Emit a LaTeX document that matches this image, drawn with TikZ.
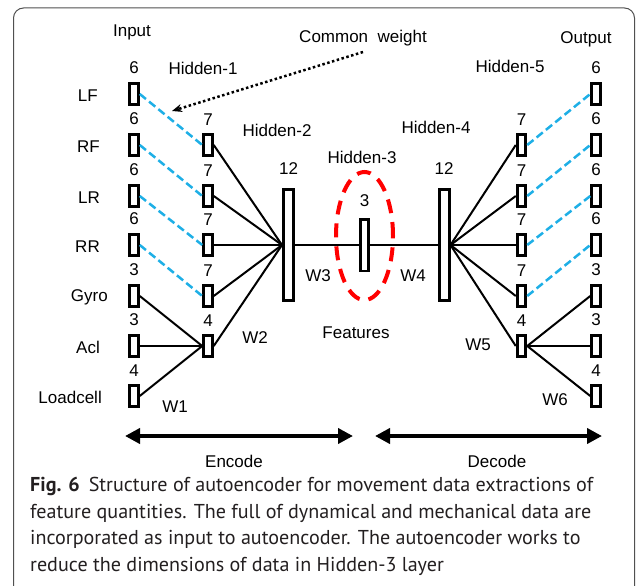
\documentclass[tikz,border=0pt]{standalone}
\usepackage{fontspec}
\setmainfont{Liberation Sans}
\newfontfamily\capfont{PT Sans}
\usetikzlibrary{arrows.meta}
\definecolor{wblue}{RGB}{30,175,230}
\definecolor{framegray}{RGB}{80,80,80}
\definecolor{captext}{RGB}{35,31,32}

\begin{document}
\begin{tikzpicture}[x=1pt, y=-1pt,
    every node/.style={font=\fontsize{17}{20}\selectfont, inner sep=0pt},
    label distance=8pt,
    unit/.style={draw, fill=white, line width=3pt, minimum width=8.5pt, minimum height=20.5pt},
    layer/.style={unit, minimum width=10pt, minimum height=111pt},
    code/.style={unit, line width=2.5pt, minimum width=8pt, minimum height=51.5pt},
    link/.style={line width=2pt},
    shared/.style={line width=2.5pt, wblue, dash pattern=on 8pt off 4pt},
    ring/.style={line width=4pt, red, dash pattern=on 14pt off 9pt},
    bigarrow/.style={{Triangle[length=15pt,width=15pt]}-{Triangle[length=15pt,width=15pt]}, line width=4pt},
    capline/.style={anchor=base west, text=captext, font=\capfont\fontsize{20.1}{24}\selectfont}]
    \useasboundingbox (0,0) rectangle (637,586);
    \draw[framegray, line width=1pt, rounded corners=10pt] (13.5,8) rectangle (634.5,600);

    % titles
    \node (tin)  at (132,32)  {Input};
    \node (tout) at (586,39)  {Output};
    \node (cw)   at (363,38)  {Common\ \ weight};
    \node (th1)  at (203,68)  {Hidden-1};
    \node (th2)  at (277,130) {Hidden-2};
    \node (th3)  at (362,157) {Hidden-3};
    \node (th4)  at (436,127) {Hidden-4};
    \node (th5)  at (510,66)  {Hidden-5};

    % input layer
    \node[unit, label={[name=nx1]above:6}] (x1) at (134,94)  {};
    \node[unit, label={[name=nx2]above:6}] (x2) at (134,145) {};
    \node[unit, label={[name=nx3]above:6}] (x3) at (134,196) {};
    \node[unit, label={[name=nx4]above:6}] (x4) at (134,245) {};
    \node[unit, label={[name=nx5]above:3}] (x5) at (134,296) {};
    \node[unit, label={[name=nx6]above:3}] (x6) at (134,346) {};
    \node[unit, label={[name=nx7]above:4}] (x7) at (134,396) {};
    \node[anchor=east] (lf)   at (98,96)   {LF};
    \node[anchor=east] (rf)   at (100,147) {RF};
    \node[anchor=east] (lr)   at (100,198) {LR};
    \node[anchor=east] (rr)   at (100,247) {RR};
    \node[anchor=east] (gyro) at (108,297) {Gyro};
    \node[anchor=east] (acl)  at (100,347) {Acl};
    \node[anchor=east] (load) at (102,397) {Loadcell};

    % hidden-1
    \node[unit, label={[name=na1]above:7}] (a1) at (208,145) {};
    \node[unit, label={[name=na2]above:7}] (a2) at (208,196) {};
    \node[unit, label={[name=na3]above:7}] (a3) at (208,245) {};
    \node[unit, label={[name=na4]above:7}] (a4) at (208,296) {};
    \node[unit, label={[name=na5]above:4}] (a5) at (208,346) {};

    % hidden-2, 3, 4
    \node[layer, label={[name=nb, label distance=13pt]above:12}] (b) at (288.5,245) {};
    \node[code,  label={[name=nz, label distance=11pt]above:3}]  (z) at (364.5,245) {};
    \node[layer, label={[name=nc, label distance=13pt]above:12}] (c) at (444,245)   {};
    \draw[ring] (364.5,236) ellipse [x radius=28.5pt, y radius=64pt];

    % hidden-5
    \node[unit, label={[name=nd1]above:7}] (d1) at (521.5,145) {};
    \node[unit, label={[name=nd2]above:7}] (d2) at (521.5,196) {};
    \node[unit, label={[name=nd3]above:7}] (d3) at (521.5,245) {};
    \node[unit, label={[name=nd4]above:7}] (d4) at (521.5,296) {};
    \node[unit, label={[name=nd5]above:4}] (d5) at (521.5,346) {};

    % output layer
    \node[unit, label={[name=ny1]above:6}] (y1) at (596,94)  {};
    \node[unit, label={[name=ny2]above:6}] (y2) at (596,145) {};
    \node[unit, label={[name=ny3]above:6}] (y3) at (596,196) {};
    \node[unit, label={[name=ny4]above:6}] (y4) at (596,245) {};
    \node[unit, label={[name=ny5]above:3}] (y5) at (596,296) {};
    \node[unit, label={[name=ny6]above:3}] (y6) at (596,346) {};
    \node[unit, label={[name=ny7]above:4}] (y7) at (596,396) {};

    % weights
    \node (w1) at (175,407) {W1};
    \node (w2) at (255,338) {W2};
    \node (w3) at (318,276) {W3};
    \node (w4) at (413,276) {W4};
    \node (w5) at (478,345) {W5};
    \node (w6) at (555,400) {W6};
    \node (feat) at (356,333) {Features};

    % connections
    \draw[shared] (x1.east) -- (a1.west);
    \draw[shared] (x2.east) -- (a2.west);
    \draw[shared] (x3.east) -- (a3.west);
    \draw[shared] (x4.east) -- (a4.west);
    \draw[link] (x5.east) -- (a5.west);
    \draw[link] (x6.east) -- (a5.west);
    \draw[link] (x7.east) -- (a5.west);
    \draw[link] (a1.east) -- (b.west);
    \draw[link] (a2.east) -- (b.west);
    \draw[link] (a3.east) -- (b.west);
    \draw[link] (a4.east) -- (b.west);
    \draw[link] (a5.east) -- (b.west);
    \draw[link] (b.east) -- (z.west);
    \draw[link] (z.east) -- (c.west);
    \draw[link] (c.east) -- (d1.west);
    \draw[link] (c.east) -- (d2.west);
    \draw[link] (c.east) -- (d3.west);
    \draw[link] (c.east) -- (d4.west);
    \draw[link] (c.east) -- (d5.west);
    \draw[shared] (d1.east) -- (y1.west);
    \draw[shared] (d2.east) -- (y2.west);
    \draw[shared] (d3.east) -- (y3.west);
    \draw[shared] (d4.east) -- (y4.west);
    \draw[link] (d5.east) -- (y5.west);
    \draw[link] (d5.east) -- (y6.west);
    \draw[link] (d5.east) -- (y7.west);

    % common weight pointer
    \coordinate (cwtail) at (363,52);
    \coordinate (cwtip)  at (172,111);
    \draw[line width=2.5pt, dash pattern=on 2.5pt off 2.5pt, -{Stealth[length=10pt,width=8pt]}] (cwtail) -- (cwtip);

    % encode / decode
    \coordinate (encl) at (125,436);
    \coordinate (encr) at (353,436);
    \coordinate (decl) at (375,436);
    \coordinate (decr) at (602,436);
    \draw[bigarrow] (encl) -- (encr);
    \draw[bigarrow] (decl) -- (decr);
    \node (enc) at (234,461) {Encode};
    \node (dec) at (497,461) {Decode};

    % caption
    \node[capline] (cap1) at (30,491.5) {\textbf{Fig. 6}\hspace{0.45em}Structure of autoencoder for movement data extractions of};
    \node[capline] (cap2) at (30,518)   {feature quantities. The full of dynamical and mechanical data are};
    \node[capline] (cap3) at (30,544.5) {incorporated as input to autoencoder. The autoencoder works to};
    \node[capline] (cap4) at (30,571)   {reduce the dimensions of data in Hidden-3 layer};
\end{tikzpicture}
\end{document}
